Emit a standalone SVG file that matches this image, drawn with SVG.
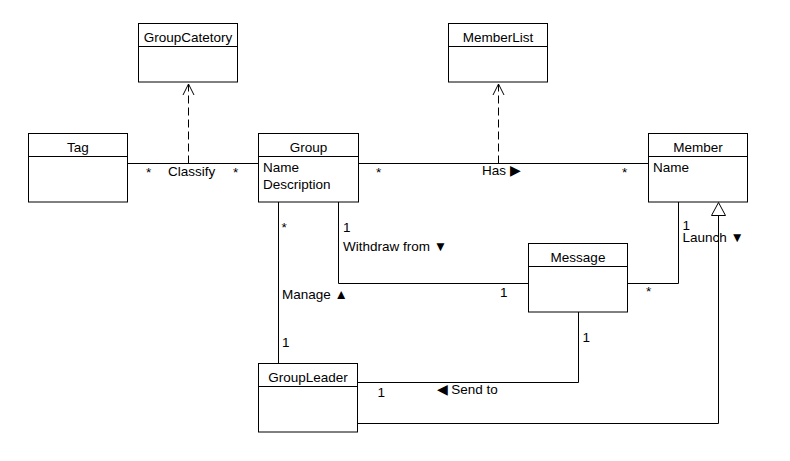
<svg xmlns="http://www.w3.org/2000/svg" width="790" height="461" viewBox="0 0 790 461">
<style>
.box{fill:#fff;stroke:#000;stroke-width:1}
.t{font-family:"Liberation Sans",Arial,sans-serif;font-size:13.5px;fill:#000}
.c{text-anchor:middle}
.ln{fill:none;stroke:#000;stroke-width:1}
.dash{stroke-dasharray:8 4}
</style>
<rect width="790" height="461" fill="#fff"/>
<g id="connectors">
<path class="ln" d="M127.5,163.5 H258.5"/>
<path class="ln" d="M358.5,163.5 H648.5"/>
<path class="ln dash" d="M188.5,163.5 V84"/>
<path d="M183,95 L188.5,84 L194,95" class="ln"/>
<path class="ln dash" d="M498.5,163.5 V84"/>
<path d="M493,95 L498.5,84 L504,95" class="ln"/>
<path class="ln" d="M278.5,202 V363.5"/>
<path class="ln" d="M338.5,202 V283.5 H528.5"/>
<path class="ln" d="M627.5,283.5 H678.5 V202"/>
<path class="ln" d="M578.5,312 V382.5 H357.5"/>
<path class="ln" d="M357.5,423.5 H718.5 V215.5"/>
<path d="M711.5,215.5 L718.5,202.5 L725.5,215.5 Z" fill="#fff" stroke="#000" stroke-width="1"/>
</g>
<g id="labels">
<text class="t" x="146" y="176.5">*</text>
<text class="t" x="168" y="175.5">Classify</text>
<text class="t" x="233" y="176.5">*</text>
<text class="t" x="376" y="176.5">*</text>
<text class="t" x="482" y="175">Has ▶</text>
<text class="t" x="622" y="176.5">*</text>
<text class="t" x="281.5" y="232">*</text>
<text class="t" x="343" y="232">1</text>
<text class="t" x="343" y="250.5">Withdraw from ▼</text>
<text class="t" x="282" y="299">Manage ▲</text>
<text class="t" x="282" y="347">1</text>
<text class="t" x="500" y="296.5">1</text>
<text class="t" x="646" y="296">*</text>
<text class="t" x="682.5" y="230">1</text>
<text class="t" x="682.5" y="242">Launch ▼</text>
<text class="t" x="582.5" y="341.5">1</text>
<text class="t" x="377.5" y="396.5">1</text>
<text class="t" x="436.5" y="394">◀ Send to</text>
</g>
<g id="GroupCatetory">
<rect class="box" x="138.5" y="23.5" width="99" height="58.5"/>
<line class="ln" x1="138.5" y1="46.5" x2="237.5" y2="46.5"/>
<text class="t c" x="188" y="41.7">GroupCatetory</text>
</g>
<g id="MemberList">
<rect class="box" x="448.5" y="23.5" width="99" height="58.5"/>
<line class="ln" x1="448.5" y1="46.5" x2="547.5" y2="46.5"/>
<text class="t c" x="498" y="41.7">MemberList</text>
</g>
<g id="Tag">
<rect class="box" x="28.5" y="133.5" width="99" height="68.5"/>
<line class="ln" x1="28.5" y1="156.5" x2="127.5" y2="156.5"/>
<text class="t c" x="78" y="151.7">Tag</text>
</g>
<g id="Group">
<rect class="box" x="258.5" y="133.5" width="100" height="68.5"/>
<line class="ln" x1="258.5" y1="156.5" x2="358.5" y2="156.5"/>
<text class="t c" x="308.5" y="151.7">Group</text>
<text class="t" x="263" y="172">Name</text>
<text class="t" x="263" y="188.5">Description</text>
</g>
<g id="Member">
<rect class="box" x="648.5" y="133.5" width="99" height="68.5"/>
<line class="ln" x1="648.5" y1="156.5" x2="747.5" y2="156.5"/>
<text class="t c" x="698" y="151.7">Member</text>
<text class="t" x="653" y="172">Name</text>
</g>
<g id="Message">
<rect class="box" x="528.5" y="243.5" width="99" height="68.5"/>
<line class="ln" x1="528.5" y1="266.5" x2="627.5" y2="266.5"/>
<text class="t c" x="578" y="262">Message</text>
</g>
<g id="GroupLeader">
<rect class="box" x="258.5" y="363.5" width="99" height="68.5"/>
<line class="ln" x1="258.5" y1="386.5" x2="357.5" y2="386.5"/>
<text class="t c" x="308" y="382">GroupLeader</text>
</g>
</svg>
